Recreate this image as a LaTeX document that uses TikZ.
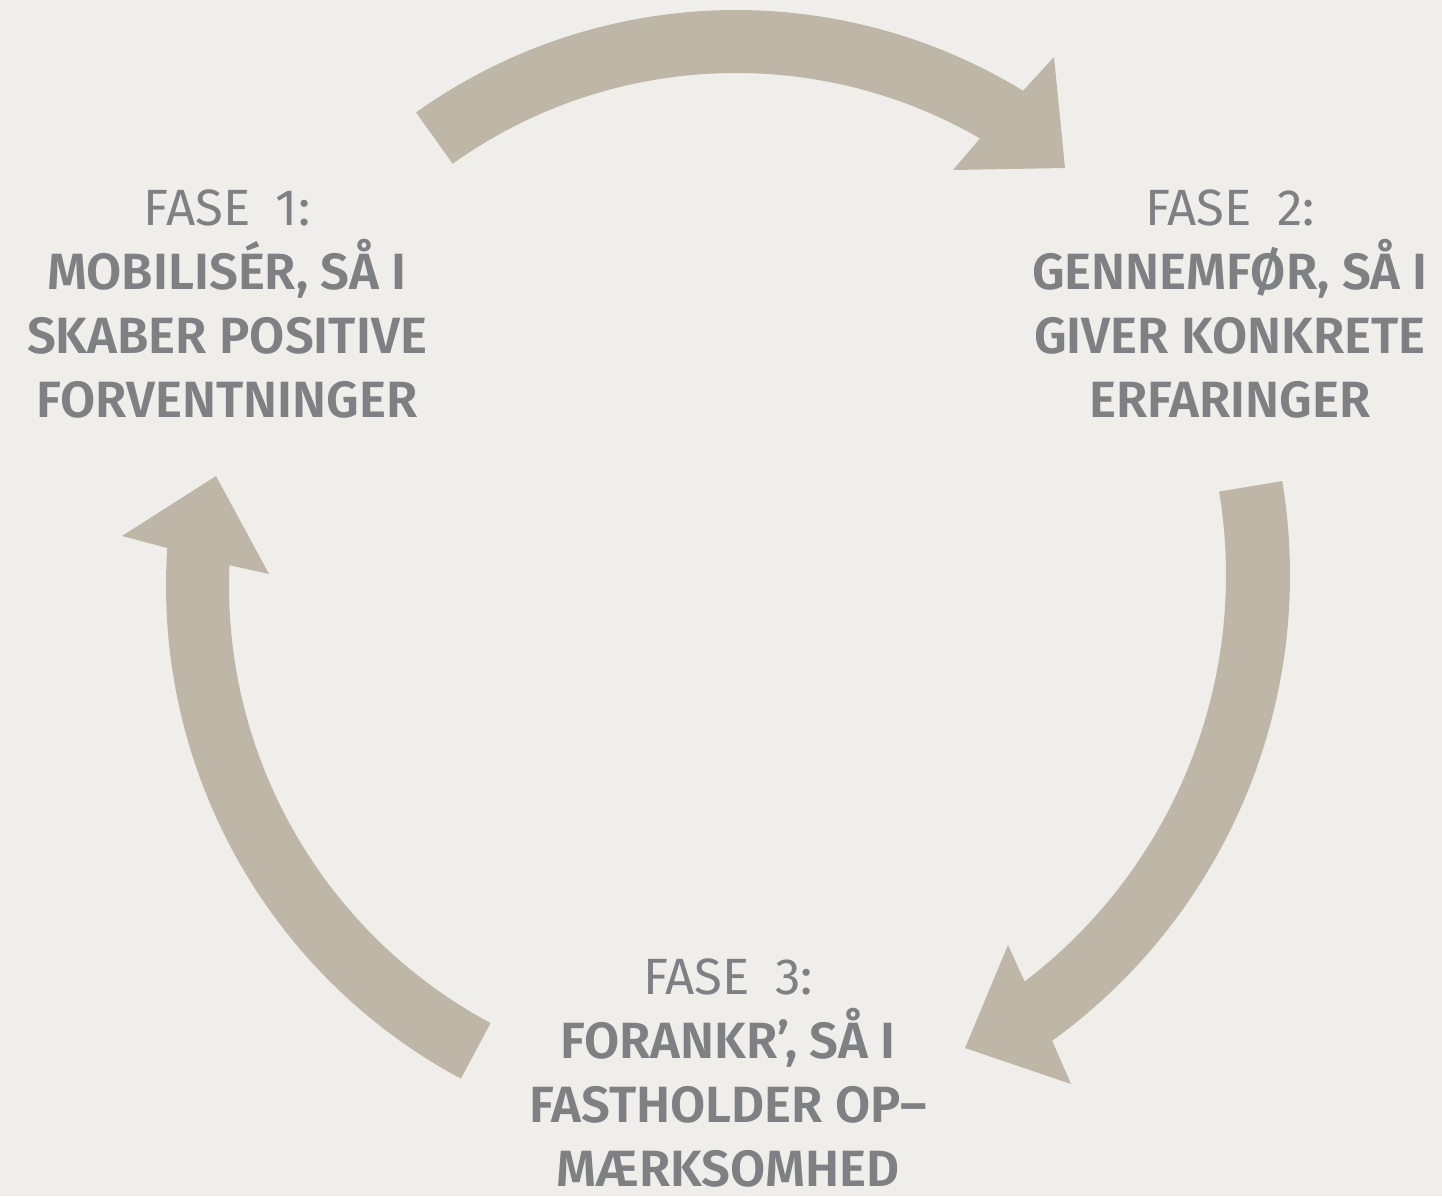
\documentclass[tikz,border=0pt]{standalone}
\usepackage{fontspec}
\usetikzlibrary{calc}
\setmainfont{Fira Sans}
\newfontfamily\faseregular{Fira Sans}
\newfontfamily\fasebold{Fira Sans SemiBold}
\definecolor{bgcol}{HTML}{EFEEEA}
\definecolor{arrowcol}{HTML}{BEB7A7}
\definecolor{textcol}{HTML}{7F8084}
\begin{document}
\begin{tikzpicture}[x=1pt,y=-1pt,
  phase/.style={align=center,text=textcol,inner sep=0pt,anchor=north,
    font=\fontsize{51}{64}\selectfont\fasebold},
  bigarrow/.style={fill=arrowcol,draw=none}]
\fill[bgcol] (0,0) rectangle (1442,1196);
\useasboundingbox (0,0) rectangle (1442,1196);
% centres of the three arcs
\coordinate (c1) at (736,561);
\coordinate (c2) at (715,575);
\coordinate (c3) at (725,586);
% arrow heads
\coordinate (h1a) at (1054,57);  \coordinate (t1) at (1065,168); \coordinate (h1b) at (953,170);
\coordinate (h2a) at (1071,1084); \coordinate (t2) at (965,1048); \coordinate (h2b) at (1008,945);
\coordinate (h3a) at (122,536);  \coordinate (t3) at (216,476); \coordinate (h3b) at (269,574);
% arrow 1 (top)
\fill[bigarrow] ($(c1)+(-125.5:551)$) arc[start angle=-125.5,end angle=-58.6,radius=551]
  -- (h1a) -- (t1) -- (h1b)
  -- ($(c1)+(-60:488)$) arc[start angle=-60,end angle=-125.5,radius=488] -- cycle;
% arrow 2 (right)
\fill[bigarrow] ($(c2)+(-9.4:575)$) arc[start angle=-9.4,end angle=54.1,radius=575]
  -- (h2a) -- (t2) -- (h2b)
  -- ($(c2)+(52.7:511)$) arc[start angle=52.7,end angle=-9.4,radius=511] -- cycle;
% arrow 3 (left)
\fill[bigarrow] ($(c3)+(118.2:559)$) arc[start angle=118.2,end angle=183.9,radius=559]
  -- (h3a) -- (t3) -- (h3b)
  -- ($(c3)+(182.4:496)$) arc[start angle=182.4,end angle=118.2,radius=496] -- cycle;
\node[phase] (p1) at (227,190) {{\faseregular FASE\enspace 1:}\\MOBILISÉR, SÅ I\\SKABER POSITIVE\\FORVENTNINGER};
\node[phase] (p2) at (1230,190) {{\faseregular FASE\enspace 2:}\\GENNEMFØR, SÅ I\\GIVER KONKRETE\\ERFARINGER};
\node[phase] (p3) at (728,959) {{\faseregular FASE\enspace 3:}\\FORANKR’, SÅ I\\FASTHOLDER OP–\\MÆRKSOMHED};
\end{tikzpicture}
\end{document}
